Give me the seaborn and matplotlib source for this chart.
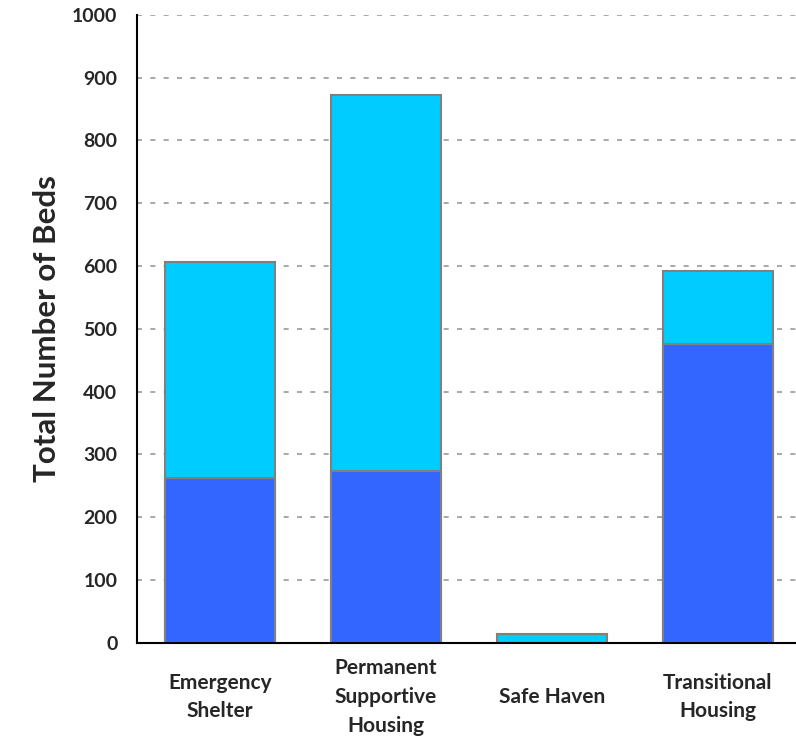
"""Stacked bar chart: total number of beds by project type."""
import matplotlib
matplotlib.use("Agg")
import matplotlib.pyplot as plt
import seaborn as sns
import pandas as pd

# ── data ──────────────────────────────────────────────────────────────────────
categories = ["Emergency\nShelter", "Permanent\nSupportive\nHousing", "Safe Haven", "Transitional\nHousing"]
lower_beds = [263, 274, 0, 476]      # dark blue segment
upper_beds = [344, 598, 15, 116]     # cyan segment on top
y_ticks = [0, 100, 200, 300, 400, 500, 600, 700, 800, 900, 1000]

totals = [lo + up for lo, up in zip(lower_beds, upper_beds)]
df = pd.DataFrame({"category": categories, "lower": lower_beds, "total": totals})

sns.set_style("white")
plt.rcParams["font.family"] = ["Lato", "DejaVu Sans"]

fig = plt.figure(figsize=(7.96, 7.39), dpi=100)
ax = fig.add_axes([0.172, 0.13, 0.832, 0.85])

# gridlines behind bars
ax.set_axisbelow(True)
ax.yaxis.grid(True, linestyle=(0, (3, 5)), color="#999999", linewidth=1.2)

sns.barplot(data=df, x="category", y="total", color="#00CCFF", saturation=1,
            width=0.66, edgecolor="#808080", linewidth=1.5, ax=ax)
sns.barplot(data=df[df["lower"] > 0], x="category", y="lower", color="#3366FF",
            saturation=1, width=0.66, edgecolor="#808080", linewidth=1.5, ax=ax,
            order=categories)

ax.set_ylim(0, 1000)
ax.set_xlim(-0.5, 3.49)
ax.set_yticks(y_ticks)
ax.set_yticklabels([str(t) for t in y_ticks], fontsize=14, fontweight="bold")
ax.set_xticks(range(len(categories)))
ax.set_xticklabels(categories, fontsize=15, fontweight="bold", linespacing=1.55)
for lbl in ax.get_xticklabels():
    lbl.set_verticalalignment("center")
ax.tick_params(axis="y", direction="out", length=6, width=1.2, color="black", pad=8)
ax.tick_params(axis="x", length=0, pad=39)

ax.set_xlabel("")
ax.set_ylabel("Total Number of Beds", fontsize=22.5, fontweight="bold")
ax.yaxis.set_label_coords(-0.115, 0.5)

for side in ["top", "right"]:
    ax.spines[side].set_visible(False)
for side in ["left", "bottom"]:
    ax.spines[side].set_color("black")
    ax.spines[side].set_linewidth(1.5)

plt.savefig("out.png", dpi=100)
plt.close()
